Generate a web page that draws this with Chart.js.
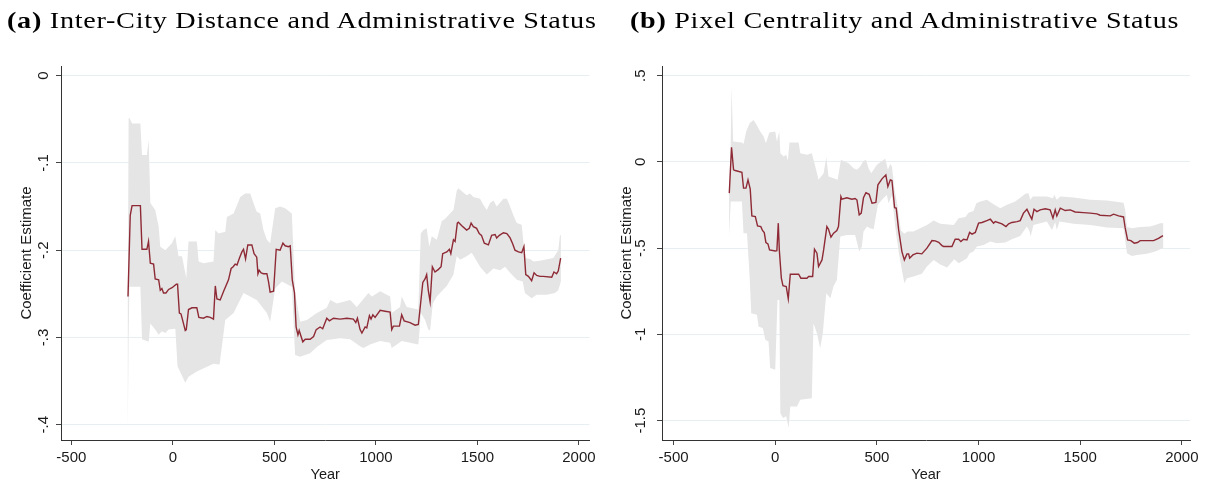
<!DOCTYPE html>
<html>
<head>
<meta charset="utf-8">
<script src="https://cdn.jsdelivr.net/npm/chart.js@4.4.1/dist/chart.umd.min.js"></script>
<style>
  body { margin: 0; background: #fff; }
  #wrap { position: relative; width: 1205px; height: 484px; overflow: hidden; }
  .panel { position: absolute; top: 0; height: 484px; }
  .panel canvas { position: absolute; left: 0; top: 0; }
  .ttl { position: absolute; top: 9px; font-family: "Liberation Serif", serif; font-size: 23.5px;
         line-height: 1; white-space: nowrap; color: #000; letter-spacing: 0.6px;
         transform-origin: 0 0; }
</style>
</head>
<body>
<div id="wrap">
  <div class="panel" style="left:0;width:600px">
    <canvas id="chartA" width="600" height="484"></canvas>
    <div class="ttl" id="ttlA" style="left:7px"><b>(a)</b> Inter-City Distance and Administrative Status</div>
  </div>
  <div class="panel" style="left:600px;width:605px">
    <canvas id="chartB" width="605" height="484"></canvas>
    <div class="ttl" id="ttlB" style="left:30px"><b>(b)</b> Pixel Centrality and Administrative Status</div>
  </div>
</div>
<script>
// ---- panel (a): inter-city distance ----
var yearsA = [-221,-210,-201,-160,-152,-128,-120,-111,-95,-87,-70,-62,-54,-46,-34,-21,-4,17,23,32,40,61,66,77,94,118,128,151,168,184,200,209,217,233,250,274,287,297,307,316,328,340,348,358,369,389,400,413,419,425,435,446,463,471,479,496,509,528,542,553,569,578,588,599,607,616,622,640,652,676,693,706,725,738,758,771,791,824,857,889,901,909,922,931,947,955,968,976,985,996,1021,1045,1070,1078,1086,1116,1127,1139,1168,1193,1209,1217,1231,1242,1250,1258,1267,1278,1291,1308,1321,1329,1349,1362,1369,1382,1390,1401,1406,1423,1447,1460,1469,1480,1496,1509,1520,1534,1554,1570,1587,1595,1608,1628,1645,1661,1674,1685,1702,1718,1729,1738,1751,1767,1779,1792,1808,1824,1866,1877,1890,1898,1910];
var estA = [-0.253,-0.160,-0.149,-0.149,-0.199,-0.199,-0.190,-0.215,-0.216,-0.233,-0.234,-0.246,-0.244,-0.249,-0.249,-0.245,-0.243,-0.239,-0.239,-0.272,-0.273,-0.292,-0.291,-0.268,-0.266,-0.266,-0.277,-0.278,-0.276,-0.277,-0.279,-0.241,-0.256,-0.257,-0.247,-0.234,-0.221,-0.219,-0.216,-0.217,-0.209,-0.202,-0.199,-0.210,-0.194,-0.194,-0.204,-0.208,-0.227,-0.223,-0.226,-0.227,-0.227,-0.236,-0.248,-0.247,-0.199,-0.200,-0.192,-0.195,-0.196,-0.195,-0.234,-0.249,-0.288,-0.297,-0.292,-0.305,-0.302,-0.302,-0.299,-0.291,-0.288,-0.290,-0.278,-0.281,-0.278,-0.279,-0.278,-0.279,-0.283,-0.278,-0.291,-0.295,-0.288,-0.289,-0.275,-0.279,-0.274,-0.277,-0.269,-0.270,-0.271,-0.291,-0.287,-0.287,-0.274,-0.281,-0.283,-0.286,-0.285,-0.268,-0.237,-0.233,-0.228,-0.246,-0.259,-0.219,-0.225,-0.222,-0.219,-0.204,-0.202,-0.199,-0.204,-0.188,-0.190,-0.169,-0.168,-0.172,-0.177,-0.175,-0.169,-0.173,-0.175,-0.181,-0.183,-0.192,-0.194,-0.183,-0.182,-0.186,-0.183,-0.180,-0.181,-0.186,-0.193,-0.200,-0.202,-0.203,-0.196,-0.228,-0.230,-0.235,-0.226,-0.229,-0.230,-0.230,-0.231,-0.225,-0.227,-0.224,-0.209];
var upYearsA = [-222,-218,-213,-201,-160,-152,-128,-119,-111,-87,-70,-62,-37,-5,12,28,45,66,77,118,127,151,200,209,225,258,266,299,332,356,381,397,413,430,446,463,479,504,528,553,586,602,627,660,709,758,775,808,873,906,963,980,1021,1070,1078,1119,1127,1152,1209,1221,1234,1250,1263,1275,1300,1324,1341,1365,1382,1398,1406,1447,1464,1480,1513,1529,1546,1562,1579,1595,1628,1645,1661,1677,1694,1718,1729,1738,1759,1776,1808,1874,1898,1906,1911];
var upA = [-0.253,-0.049,-0.049,-0.055,-0.055,-0.091,-0.091,-0.074,-0.146,-0.154,-0.173,-0.196,-0.200,-0.192,-0.184,-0.207,-0.207,-0.232,-0.190,-0.190,-0.213,-0.215,-0.213,-0.177,-0.181,-0.179,-0.162,-0.158,-0.139,-0.135,-0.135,-0.146,-0.156,-0.158,-0.177,-0.188,-0.192,-0.152,-0.150,-0.152,-0.158,-0.249,-0.282,-0.280,-0.272,-0.266,-0.257,-0.261,-0.257,-0.265,-0.249,-0.253,-0.247,-0.253,-0.272,-0.265,-0.253,-0.265,-0.268,-0.181,-0.177,-0.175,-0.196,-0.184,-0.188,-0.167,-0.164,-0.158,-0.154,-0.132,-0.129,-0.137,-0.135,-0.139,-0.141,-0.148,-0.154,-0.146,-0.143,-0.150,-0.141,-0.141,-0.150,-0.160,-0.169,-0.171,-0.196,-0.209,-0.210,-0.213,-0.212,-0.209,-0.200,-0.184,-0.182];
var loYearsA = [-222,-218,-214,-160,-152,-119,-111,-87,-70,-54,-37,-21,12,23,61,77,118,200,230,258,299,348,413,463,479,504,537,586,602,627,676,709,758,824,873,922,939,971,1021,1070,1078,1103,1127,1209,1222,1242,1258,1267,1280,1300,1324,1349,1382,1398,1415,1447,1472,1513,1546,1579,1612,1636,1661,1694,1723,1734,1767,1792,1841,1882,1898,1906,1911];
var loA = [-0.405,-0.300,-0.242,-0.242,-0.302,-0.305,-0.284,-0.291,-0.297,-0.293,-0.295,-0.291,-0.290,-0.333,-0.352,-0.345,-0.339,-0.330,-0.331,-0.280,-0.272,-0.249,-0.257,-0.272,-0.282,-0.244,-0.236,-0.242,-0.320,-0.322,-0.318,-0.311,-0.303,-0.301,-0.302,-0.310,-0.312,-0.308,-0.304,-0.306,-0.312,-0.308,-0.304,-0.308,-0.272,-0.280,-0.291,-0.292,-0.261,-0.253,-0.247,-0.241,-0.228,-0.207,-0.211,-0.207,-0.203,-0.219,-0.228,-0.221,-0.223,-0.219,-0.226,-0.234,-0.236,-0.249,-0.255,-0.251,-0.251,-0.249,-0.246,-0.240,-0.236];
var yTicksA = [0, -0.1, -0.2, -0.3, -0.4];
var yLabelsA = ['0', '-.1', '-.2', '-.3', '-.4'];

// ---- panel (b): pixel centrality ----
var yearsB = [-226,-215,-205,-197,-164,-156,-144,-134,-123,-115,-98,-87,-71,-62,-54,-46,-36,-28,0,8,15,20,30,38,54,64,74,115,126,156,164,184,193,205,213,230,238,254,262,274,287,303,311,323,328,352,377,393,402,413,423,434,446,462,476,495,505,525,544,554,566,574,587,595,607,623,635,648,656,661,677,697,721,746,771,787,804,820,828,869,885,902,913,926,943,956,968,984,1000,1017,1041,1058,1074,1082,1115,1135,1148,1164,1189,1205,1221,1238,1251,1262,1273,1287,1303,1328,1352,1366,1377,1385,1402,1426,1451,1475,1516,1549,1582,1598,1648,1664,1689,1713,1721,1733,1749,1766,1782,1795,1861,1885,1907];
var estB = [-0.181,0.085,-0.046,-0.050,-0.060,-0.152,-0.152,-0.104,-0.158,-0.313,-0.317,-0.371,-0.375,-0.399,-0.410,-0.467,-0.475,-0.510,-0.516,-0.514,-0.355,-0.510,-0.674,-0.718,-0.722,-0.794,-0.651,-0.651,-0.674,-0.674,-0.664,-0.664,-0.506,-0.529,-0.606,-0.568,-0.510,-0.375,-0.390,-0.436,-0.413,-0.398,-0.375,-0.201,-0.216,-0.208,-0.216,-0.212,-0.221,-0.307,-0.297,-0.208,-0.179,-0.188,-0.239,-0.235,-0.133,-0.098,-0.075,-0.143,-0.104,-0.108,-0.265,-0.268,-0.394,-0.520,-0.568,-0.533,-0.533,-0.558,-0.539,-0.529,-0.533,-0.500,-0.456,-0.458,-0.466,-0.485,-0.490,-0.490,-0.448,-0.448,-0.462,-0.448,-0.452,-0.409,-0.419,-0.409,-0.355,-0.351,-0.340,-0.332,-0.355,-0.346,-0.359,-0.375,-0.359,-0.351,-0.346,-0.340,-0.297,-0.274,-0.307,-0.332,-0.274,-0.288,-0.278,-0.272,-0.278,-0.326,-0.278,-0.313,-0.268,-0.282,-0.278,-0.290,-0.294,-0.297,-0.301,-0.309,-0.313,-0.303,-0.313,-0.319,-0.381,-0.452,-0.456,-0.471,-0.467,-0.456,-0.456,-0.443,-0.427];
var upYearsB = [-227,-219,-215,-207,-164,-156,-143,-126,-107,-94,-74,-57,-46,-29,0,8,20,25,41,54,62,70,115,123,156,180,197,213,238,251,262,287,307,323,361,385,402,418,434,446,459,472,484,500,525,541,554,566,574,587,602,618,635,651,680,713,746,779,812,878,902,935,951,975,989,1009,1041,1066,1107,1140,1180,1213,1230,1246,1254,1267,1303,1336,1366,1372,1385,1402,1467,1549,1631,1713,1721,1730,1754,1795,1844,1869,1894,1908];
var upB = [-0.181,0.110,0.436,0.118,0.113,0.104,0.176,0.224,0.243,0.220,0.176,0.147,0.108,0.170,0.176,0.118,0.176,0.050,0.031,0.041,0.008,0.112,0.112,0.050,0.041,0.050,-0.027,-0.104,-0.066,0.027,-0.085,-0.095,-0.104,0.012,-0.008,-0.037,-0.046,-0.027,0.006,0.012,-0.037,-0.066,-0.046,-0.017,0.006,0.019,-0.046,-0.012,-0.027,-0.162,-0.259,-0.398,-0.417,-0.404,-0.404,-0.384,-0.365,-0.340,-0.358,-0.365,-0.326,-0.320,-0.294,-0.284,-0.240,-0.230,-0.220,-0.240,-0.268,-0.249,-0.230,-0.201,-0.185,-0.182,-0.220,-0.201,-0.201,-0.201,-0.211,-0.191,-0.220,-0.201,-0.207,-0.220,-0.224,-0.236,-0.278,-0.378,-0.384,-0.378,-0.375,-0.365,-0.355,-0.355];
var loYearsB = [-227,-219,-164,-156,-139,-126,-118,-90,-82,-61,-49,-33,-25,0,11,20,25,38,54,66,74,107,123,180,188,205,221,234,251,271,287,303,320,352,393,413,426,434,451,467,484,505,525,549,557,574,590,607,623,635,648,680,721,746,779,812,845,880,902,918,943,956,975,992,1025,1058,1090,1131,1164,1205,1238,1251,1256,1270,1303,1336,1361,1377,1385,1398,1467,1549,1631,1713,1730,1754,1779,1828,1869,1908];
var loB = [-0.433,-0.230,-0.230,-0.413,-0.413,-0.664,-0.877,-0.886,-0.954,-0.964,-1.031,-1.041,-1.195,-1.205,-0.800,-0.800,-1.456,-1.485,-1.475,-1.543,-1.418,-1.418,-1.379,-1.370,-0.935,-0.993,-1.080,-0.993,-0.761,-0.790,-0.720,-0.684,-0.433,-0.423,-0.423,-0.520,-0.491,-0.405,-0.375,-0.385,-0.390,-0.249,-0.220,-0.191,-0.240,-0.195,-0.375,-0.520,-0.626,-0.703,-0.674,-0.664,-0.649,-0.606,-0.568,-0.595,-0.612,-0.564,-0.587,-0.577,-0.558,-0.529,-0.519,-0.490,-0.481,-0.462,-0.471,-0.467,-0.448,-0.429,-0.375,-0.404,-0.432,-0.365,-0.355,-0.346,-0.394,-0.350,-0.394,-0.346,-0.359,-0.365,-0.380,-0.384,-0.529,-0.545,-0.539,-0.533,-0.520,-0.499];
var yTicksB = [0.5, 0, -0.5, -1, -1.5];
var yLabelsB = ['.5', '0', '-.5', '-1', '-1.5'];

var xTicks = [-500, 0, 500, 1000, 1500, 2000];

var sansFont = '"Liberation Sans", Arial, sans-serif';
var lineColor = '#8e2a35';
var bandColor = '#e5e5e5';

function pts(xs, ys) {
    return xs.map(function (x, i) { return {x: x, y: ys[i]}; });
}

function makeChart(id, years, est, upYears, up, loYears, lo, yTicks, yLabels, lim, yAxisW, rightPad) {
    // band drawn as one closed shape: upper edge forwards, lower edge back
    var band = pts(upYears, up).concat(pts(loYears, lo).reverse());

    return new Chart(document.getElementById(id), {
        type: 'line',
        data: {
            datasets: [{
                data: pts(years, est),
                borderColor: lineColor,
                borderWidth: 1.4,
                fill: false,
                pointRadius: 0
            }, {
                data: band,
                borderColor: 'rgba(0,0,0,0)',
                borderWidth: 0,
                backgroundColor: bandColor,
                fill: 'shape',
                pointRadius: 0
            }]
        },
        options: {
            responsive: false,
            animation: false,
            events: [],
            layout: {padding: {left: 0, right: rightPad, top: 66, bottom: 0}},
            plugins: {legend: {display: false}, tooltip: {enabled: false}},
            elements: {line: {tension: 0}},
            scales: {
                x: {
                    type: 'linear',
                    min: lim[0], max: lim[1],
                    afterBuildTicks: function (s) { s.ticks = xTicks.map(function (v) { return {value: v}; }); },
                    afterFit: function (s) { s.height = 44; },
                    ticks: {
                        color: '#1a1a1a', font: {family: sansFont, size: 15},
                        padding: 4, maxRotation: 0, autoSkip: false,
                        callback: function (v) { return String(v); }
                    },
                    grid: {drawOnChartArea: false, drawTicks: true, tickLength: 5, tickColor: '#444'},
                    border: {display: true, color: '#333', width: 1},
                    title: {display: true, text: 'Year', color: '#1a1a1a',
                            font: {family: sansFont, size: 14.5}, padding: {top: 0, bottom: 0}}
                },
                y: {
                    type: 'linear',
                    min: lim[2], max: lim[3],
                    afterBuildTicks: function (s) { s.ticks = yTicks.map(function (v) { return {value: v}; }); },
                    afterFit: function (s) { s.width = yAxisW; },
                    ticks: {
                        color: '#1a1a1a', font: {family: sansFont, size: 15},
                        minRotation: 90, maxRotation: 90, crossAlign: 'center', padding: 3,
                        callback: function (v) { return yLabels[yTicks.indexOf(v)]; }
                    },
                    grid: {color: '#e8eff2', lineWidth: 1, drawTicks: true, tickLength: 5, tickColor: '#444'},
                    border: {display: true, color: '#333', width: 1},
                    title: {display: true, text: 'Coefficient Estimate', color: '#1a1a1a',
                            font: {family: sansFont, size: 15}, padding: {top: 18, bottom: 0}}
                }
            }
        }
    });
}

makeChart('chartA', yearsA, estA, upYearsA, upA, loYearsA, loA, yTicksA, yLabelsA,
          [-551, 2052, -0.4175, 0.011], 61, 10.5);
makeChart('chartB', yearsB, estB, upYearsB, upB, loYearsB, loB, yTicksB, yLabelsB,
          [-557, 2040, -1.612, 0.556], 62, 15);

// stretch the serif titles to the width they take in the original
function fitTitle(id, w) {
    var el = document.getElementById(id);
    el.style.transform = 'scaleX(' + (w / el.offsetWidth) + ')';
}
fitTitle('ttlA', 590);
fitTitle('ttlB', 549);
</script>
</body>
</html>
